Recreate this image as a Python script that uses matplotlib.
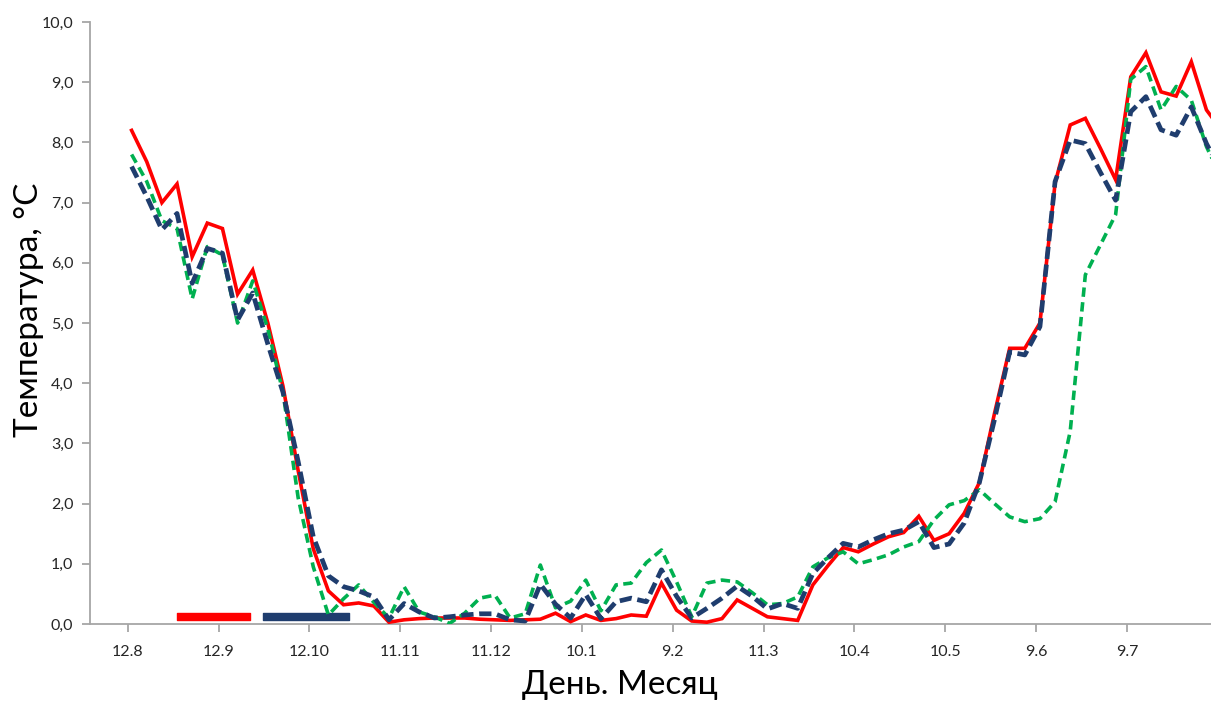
import numpy as np
import matplotlib
matplotlib.use('Agg')
import matplotlib.pyplot as plt

plt.rcParams['font.family'] = ['Lato', 'Noto Sans', 'DejaVu Sans']

# температура, три серии (по точкам, шаг ~5 дней)
red = [8.2, 7.68, 7.0, 7.31, 6.1, 6.66, 6.57, 5.48, 5.88, 5.0,
       3.95, 2.55, 1.25, 0.55, 0.32, 0.35, 0.3, 0.03, 0.07, 0.09,
       0.1, 0.1, 0.1, 0.08, 0.07, 0.06, 0.07, 0.08, 0.18, 0.04,
       0.15, 0.06, 0.09, 0.15, 0.13, 0.68, 0.23, 0.05, 0.03, 0.09,
       0.4, 0.26, 0.12, 0.09, 0.06, 0.65, 0.97, 1.27, 1.2, 1.33,
       1.45, 1.52, 1.79, 1.39, 1.5, 1.84, 2.35, 3.5, 4.58, 4.58,
       5.0, 7.32, 8.29, 8.4, 7.9, 7.38, 9.09, 9.49, 8.84, 8.77,
       9.34, 8.54, 8.2]

blue = [7.6, 7.1, 6.55, 6.82, 5.66, 6.24, 6.16, 5.05, 5.5, 4.65,
        3.85, 2.7, 1.45, 0.8, 0.62, 0.55, 0.45, 0.07, 0.34, 0.2,
        0.1, 0.12, 0.15, 0.17, 0.17, 0.07, 0.05, 0.66, 0.33, 0.1,
        0.49, 0.09, 0.37, 0.43, 0.37, 0.9, 0.46, 0.1, 0.26, 0.43,
        0.63, 0.46, 0.25, 0.34, 0.26, 0.84, 1.1, 1.34, 1.28, 1.4,
        1.5, 1.56, 1.7, 1.27, 1.33, 1.68, 2.35, 3.4, 4.52, 4.47,
        4.94, 7.35, 8.04, 7.98, 7.5, 7.04, 8.51, 8.76, 8.21, 8.12,
        8.59, 7.98, 7.5]

green = [7.8, 7.35, 6.7, 6.57, 5.4, 6.27, 6.13, 5.0, 5.7, 4.9,
         3.85, 2.1, 0.95, 0.15, 0.42, 0.65, 0.36, 0.1, 0.62, 0.2,
         0.12, 0.01, 0.18, 0.43, 0.48, 0.1, 0.17, 0.98, 0.27, 0.38,
         0.73, 0.22, 0.65, 0.68, 1.02, 1.23, 0.7, 0.12, 0.68, 0.73,
         0.7, 0.52, 0.32, 0.34, 0.45, 0.95, 1.1, 1.2, 1.0, 1.07,
         1.15, 1.28, 1.37, 1.73, 1.98, 2.05, 2.23, 2.0, 1.78, 1.7,
         1.75, 2.03, 3.2, 5.8, 6.3, 6.8, 9.05, 9.26, 8.54, 8.93,
         8.7, 7.93, 7.4]

tick_labels = ['12.8', '12.9', '12.10', '11.11', '11.12', '10.1',
               '9.2', '11.3', '10.4', '10.5', '9.6', '9.7']

# периоды (в индексах точек)
red_period = (2.97, 7.82)
blue_period = (8.69, 14.37)

x = np.arange(len(red))

fig = plt.figure(figsize=(12.11, 7.04), dpi=100)
ax = fig.add_axes([0.0743, 0.1136, 0.9257, 0.8551])

ax.plot(x, red, color='#FF0000', lw=2.6, solid_joinstyle='miter', zorder=3)
ax.plot(x, green, color='#00B050', lw=2.6, dashes=(2.6, 1.5), zorder=4)
ax.plot(x, blue, color='#1F3D6E', lw=3.4, dashes=(2.6, 1.2), zorder=5)

ax.broken_barh([(red_period[0], red_period[1] - red_period[0])], (0.06, 0.12),
               color='#FF0000', zorder=2)
ax.broken_barh([(blue_period[0], blue_period[1] - blue_period[0])], (0.06, 0.12),
               color='#1F3D6E', zorder=2)

ax.set_xlim(-2.75, 71.3)
ax.set_ylim(0, 10)

ax.set_xticks(np.arange(len(tick_labels)) * 6 - 0.25)
ax.set_xticklabels(tick_labels)
yt = np.arange(0, 11)
ax.set_yticks(yt)
ax.set_yticklabels([f'{v:.1f}'.replace('.', ',') for v in yt])

for s in ['top', 'right']:
    ax.spines[s].set_visible(False)
for s in ['left', 'bottom']:
    ax.spines[s].set_color('#A6A6A6')
    ax.spines[s].set_linewidth(1.3)
ax.tick_params(axis='both', colors='#A6A6A6', length=6, width=1.3,
               labelcolor='#262626', labelsize=11.5)
ax.tick_params(axis='x', pad=9)
ax.tick_params(axis='y', pad=6)

ax.set_ylabel('Температура, °C', fontsize=24, color='black')
ax.yaxis.set_label_coords(-0.041, 0.522)
ax.set_xlabel('День. Месяц', fontsize=24, color='black')
ax.xaxis.set_label_coords(0.473, -0.076)

fig.savefig('out.png', dpi=100)
